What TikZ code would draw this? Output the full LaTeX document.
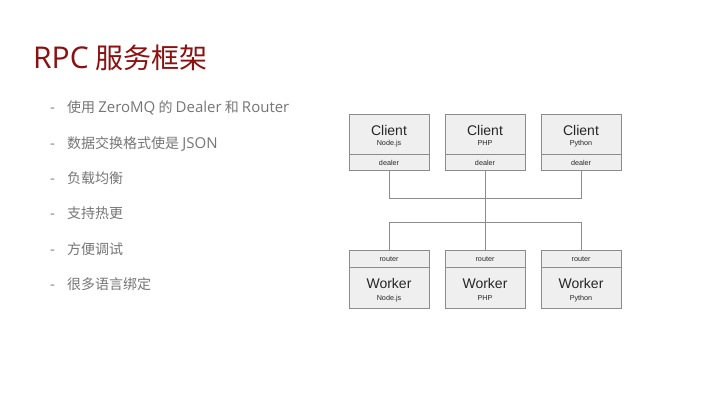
\documentclass[tikz,border=0pt]{standalone}
\usepackage{fontspec}
\setmainfont{Liberation Sans}
\newfontfamily\cjk{Noto Sans CJK SC}
\newfontfamily\lat{Open Sans}
\definecolor{titlered}{RGB}{140,16,16}
\definecolor{bulletgray}{RGB}{118,118,118}
\definecolor{boxfill}{RGB}{239,239,239}
\definecolor{boxline}{RGB}{140,140,140}
\newcommand{\la}[1]{{\lat\fontsize{15}{16}\selectfont #1}}
\begin{document}
\begin{tikzpicture}[x=1pt,y=-1pt,
  box/.style={draw=boxline,fill=boxfill,line width=0.8pt,minimum width=80pt,inner sep=0pt,outer sep=0pt},
  upper/.style={box,minimum height=40pt},
  port/.style={box,minimum height=16.4pt},
  big/.style={inner sep=0pt,anchor=base,font=\fontsize{14}{16}\selectfont,text=black!85},
  small/.style={inner sep=0pt,anchor=base,font=\fontsize{7.2}{8}\selectfont,text=black!85},
  wire/.style={draw=boxline,line width=0.8pt},
  bullet/.style={inner sep=0pt,anchor=base west,font=\cjk\fontsize{14}{16}\selectfont,text=bulletgray},
  dashmark/.style={inner sep=0pt,anchor=base west,font=\cjk\fontsize{14}{16}\selectfont,text=bulletgray}
]
\useasboundingbox[fill=white] (0,0) rectangle (720,405);

% title
\node[inner sep=0pt,anchor=base west,font=\cjk\fontsize{28}{32}\selectfont,text=titlered] (title) at (33,68.3) {{\lat\fontsize{30}{32}\selectfont RPC} 服务框架};

% bullets
\foreach \i/\t in {0/{使用 \la{ZeroMQ} 的 \la{Dealer} 和 \la{Router}},1/{数据交换格式使是 \la{JSON}},2/{负载均衡},3/{支持热更},4/{方便调试},5/{很多语言绑定}}{
  \node[dashmark] (d\i) at (50,112.8+35.3*\i) {-};
  \node[bullet] (b\i) at (67,112.8+35.3*\i) {\t};
}

% client boxes
\foreach \n/\x/\lang in {1/389/Node.js,2/485/PHP,3/581/Python}{
  \node[upper] (c\n) at (\x,134.5) {};
  \node[port] (c\n d) at (\x,162.5) {};
  \node[big] (c\n t) at (\x,135.7) {Client};
  \node[small] (c\n s) at (\x,145.9) {\lang};
  \node[small] (c\n p) at (\x,165.2) {dealer};
}

% worker boxes
\foreach \n/\x/\lang in {1/389/Node.js,2/485/PHP,3/581/Python}{
  \node[port] (w\n r) at (\x,258.7) {};
  \node[upper,minimum height=41pt] (w\n) at (\x,287.4) {};
  \node[small] (w\n p) at (\x,261.5) {router};
  \node[big] (w\n t) at (\x,288.3) {Worker};
  \node[small] (w\n s) at (\x,300.9) {\lang};
}

% connectors
\coordinate (jc) at (485,198.3);
\coordinate (jw) at (485,222.3);
\draw[wire] (c1d.south) |- (jc) -| (c3d.south);
\draw[wire] (c2d.south) -- (w2r.north);
\draw[wire] (w1r.north) |- (jw) -| (w3r.north);
\end{tikzpicture}
\end{document}
